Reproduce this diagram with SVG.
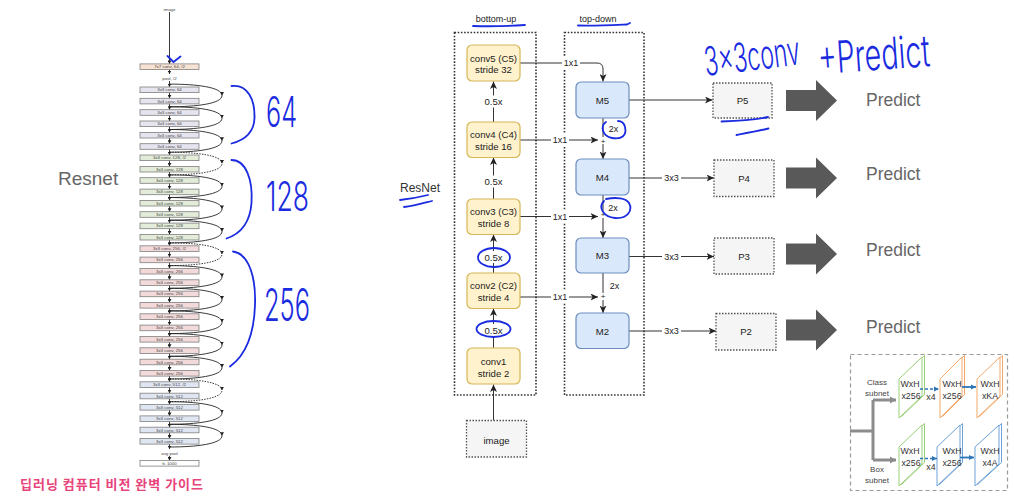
<svg xmlns="http://www.w3.org/2000/svg" width="1014" height="501" viewBox="0 0 1014 501">
<style>
  .rn { stroke:#7f7f7f; stroke-width:0.8; }
  .c64 { fill:#e6e4ef; } .c128 { fill:#e3ecd9; } .c256 { fill:#f3dada; } .c512 { fill:#e0e6f1; } .c7 { fill:#f7e3d4; } .cfc { fill:#ffffff; }
  .rt { font-family:"Liberation Sans", Arial, sans-serif; font-size:4.4px; fill:#444; text-anchor:middle; }
  .ml { fill:none; stroke:#222; stroke-width:0.9; }
  .arc { fill:none; stroke:#222; stroke-width:0.9; marker-mid:url(#aS); }
  .dash { stroke-dasharray:1.5 1.2; }
  .f { font-family:"Liberation Sans", Arial, sans-serif; fill:#222; text-anchor:middle; }
  .f10 { font-size:9.6px; }
  .f9 { font-size:9px; }
  .cb { fill:#fff2cc; stroke:#d6b656; stroke-width:1.2; }
  .mb { fill:#dae8fc; stroke:#6c8ebf; stroke-width:1.2; }
  .pb { fill:#f5f5f5; stroke:#555; stroke-width:1.3; stroke-dasharray:1.5 1.5; }
  .cont { fill:none; stroke:#333; stroke-width:1.6; stroke-dasharray:1.6 1.6; }
  .ln { fill:none; stroke:#333; stroke-width:1; }
  .la { fill:none; stroke:#333; stroke-width:1; marker-end:url(#aF); }
  .wb { fill:#ffffff; }
  .big { fill:#595959; }
  .pred { font-family:"Liberation Sans", Arial, sans-serif; font-size:17.5px; fill:#666; }
  .blue { fill:none; stroke:#1a2be0; stroke-width:1.8; stroke-linecap:round; stroke-linejoin:round; }
  .hw { font-family:Inter, "DejaVu Sans", sans-serif; font-weight:300; fill:#1a2be0; }
  .st { font-family:"Liberation Sans", Arial, sans-serif; font-size:8.8px; fill:#333; text-anchor:middle; }
  .sl { font-family:"Liberation Sans", Arial, sans-serif; font-size:8px; fill:#444; text-anchor:middle; }
  .sg { fill:#fff; stroke:#9bcf7a; stroke-width:1; }
  .so { fill:#fff; stroke:#f3a96b; stroke-width:1; }
  .sb { fill:#fff; stroke:#6fa3d8; stroke-width:1; }
</style>
<defs>
  <marker id="aS" markerUnits="userSpaceOnUse" markerWidth="4" markerHeight="4" refX="3.5" refY="2" orient="auto">
    <path d="M0,0 L3.5,2 L0,4 z" fill="#222"/>
  </marker>
  <marker id="aF" markerUnits="userSpaceOnUse" markerWidth="8" markerHeight="7" refX="7.5" refY="3.5" orient="auto">
    <path d="M0,0 L7.5,3.5 L0,7 L2,3.5 z" fill="#222"/>
  </marker>
  <marker id="aB" markerUnits="userSpaceOnUse" markerWidth="6" markerHeight="6" refX="5" refY="3" orient="auto">
    <path d="M0,0.5 L5,3 L0,5.5 z" fill="#2e75b6"/>
  </marker>
  <marker id="aG" markerUnits="userSpaceOnUse" markerWidth="8" markerHeight="8" refX="6" refY="4" orient="auto">
    <path d="M0,0.5 L6,4 L0,7.5 z" fill="#8c8c8c"/>
  </marker>
</defs>
<rect width="1014" height="501" fill="#ffffff"/>

<!-- ===== ResNet-34 column ===== -->
<g id="resnet-label"><text x="58" y="185" font-family="'Liberation Sans', Arial, sans-serif" font-size="19" fill="#666">Resnet</text></g>
<g id="resnet-connectors">
  <line class="ml" x1="169.5" y1="12" x2="169.5" y2="63.9" marker-end="url(#aS)"/>
  <line class="ml" x1="169.5" y1="69.5" x2="169.5" y2="74" marker-end="url(#aS)"/>
  <path class="ml" style="marker-mid:url(#aS);marker-end:url(#aS)" d="M169.5,81 L169.5,87 L169.5,98.3 L169.5,109.7 L169.5,121 L169.5,132.4 L169.5,143.7 L169.5,155 L169.5,166.4 L169.5,177.7 L169.5,189.1 L169.5,200.4 L169.5,211.7 L169.5,223.1 L169.5,234.4 L169.5,245.8 L169.5,257.1 L169.5,268.4 L169.5,279.8 L169.5,291.1 L169.5,302.5 L169.5,313.8 L169.5,325.1 L169.5,336.5 L169.5,347.8 L169.5,359.2 L169.5,370.5 L169.5,381.8 L169.5,393.2 L169.5,404.5 L169.5,415.9 L169.5,427.2 L169.5,438.5 L169.5,449"/>
  <line class="ml" x1="169.5" y1="456" x2="169.5" y2="460.5" marker-end="url(#aS)"/>
  <!-- residual shortcuts -->
  <path class="arc" d="M169.5,84.1 C196,84.1 222,87.1 222,95.5 C222,103.8 196,106.8 169.5,106.8"/>
  <path class="arc" d="M169.5,106.8 C196,106.8 222,109.8 222,118.2 C222,126.5 196,129.5 169.5,129.5"/>
  <path class="arc" d="M169.5,129.5 C196,129.5 222,132.5 222,140.8 C222,149.2 196,152.2 169.5,152.2"/>
  <path class="arc dash" d="M169.5,152.2 C196,152.2 222,155.2 222,163.5 C222,171.9 196,174.9 169.5,174.9"/>
  <path class="arc" d="M169.5,174.9 C196,174.9 222,177.9 222,186.2 C222,194.5 196,197.5 169.5,197.5"/>
  <path class="arc" d="M169.5,197.5 C196,197.5 222,200.5 222,208.9 C222,217.2 196,220.2 169.5,220.2"/>
  <path class="arc" d="M169.5,220.2 C196,220.2 222,223.2 222,231.5 C222,239.9 196,242.9 169.5,242.9"/>
  <path class="arc dash" d="M169.5,242.9 C196,242.9 222,245.9 222,254.2 C222,262.6 196,265.6 169.5,265.6"/>
  <path class="arc" d="M169.5,265.6 C196,265.6 222,268.6 222,276.9 C222,285.3 196,288.3 169.5,288.3"/>
  <path class="arc" d="M169.5,288.3 C196,288.3 222,291.3 222,299.6 C222,307.9 196,310.9 169.5,310.9"/>
  <path class="arc" d="M169.5,310.9 C196,310.9 222,313.9 222,322.3 C222,330.6 196,333.6 169.5,333.6"/>
  <path class="arc" d="M169.5,333.6 C196,333.6 222,336.6 222,345 C222,353.3 196,356.3 169.5,356.3"/>
  <path class="arc" d="M169.5,356.3 C196,356.3 222,359.3 222,367.6 C222,376 196,379 169.5,379"/>
  <path class="arc dash" d="M169.5,379 C196,379 222,382 222,390.3 C222,398.7 196,401.7 169.5,401.7"/>
  <path class="arc" d="M169.5,401.7 C196,401.7 222,404.7 222,413 C222,421.3 196,424.3 169.5,424.3"/>
  <path class="arc" d="M169.5,424.3 C196,424.3 222,427.3 222,435.7 C222,444 196,447 169.5,447"/>
</g>
<g id="resnet-layers">
  <text class="rt" x="169.5" y="10.5">image</text>
  <rect class="rn c7" x="140" y="63.9" width="59" height="5.6"/><text class="rt" x="169.5" y="68.2">7x7 conv, 64, /2</text>
  <text class="rt" x="169.5" y="79.5">pool, /2</text>
  <rect class="rn c64" x="140" y="87" width="59" height="5.6"/><text class="rt" x="169.5" y="91.3">3x3 conv, 64</text>
  <rect class="rn c64" x="140" y="98.3" width="59" height="5.6"/><text class="rt" x="169.5" y="102.6">3x3 conv, 64</text>
  <rect class="rn c64" x="140" y="109.7" width="59" height="5.6"/><text class="rt" x="169.5" y="114">3x3 conv, 64</text>
  <rect class="rn c64" x="140" y="121" width="59" height="5.6"/><text class="rt" x="169.5" y="125.3">3x3 conv, 64</text>
  <rect class="rn c64" x="140" y="132.4" width="59" height="5.6"/><text class="rt" x="169.5" y="136.7">3x3 conv, 64</text>
  <rect class="rn c64" x="140" y="143.7" width="59" height="5.6"/><text class="rt" x="169.5" y="148">3x3 conv, 64</text>
  <rect class="rn c128" x="140" y="155" width="59" height="5.6"/><text class="rt" x="169.5" y="159.3">3x3 conv, 128, /2</text>
  <rect class="rn c128" x="140" y="166.4" width="59" height="5.6"/><text class="rt" x="169.5" y="170.7">3x3 conv, 128</text>
  <rect class="rn c128" x="140" y="177.7" width="59" height="5.6"/><text class="rt" x="169.5" y="182">3x3 conv, 128</text>
  <rect class="rn c128" x="140" y="189.1" width="59" height="5.6"/><text class="rt" x="169.5" y="193.4">3x3 conv, 128</text>
  <rect class="rn c128" x="140" y="200.4" width="59" height="5.6"/><text class="rt" x="169.5" y="204.7">3x3 conv, 128</text>
  <rect class="rn c128" x="140" y="211.7" width="59" height="5.6"/><text class="rt" x="169.5" y="216">3x3 conv, 128</text>
  <rect class="rn c128" x="140" y="223.1" width="59" height="5.6"/><text class="rt" x="169.5" y="227.4">3x3 conv, 128</text>
  <rect class="rn c128" x="140" y="234.4" width="59" height="5.6"/><text class="rt" x="169.5" y="238.7">3x3 conv, 128</text>
  <rect class="rn c256" x="140" y="245.8" width="59" height="5.6"/><text class="rt" x="169.5" y="250.1">3x3 conv, 256, /2</text>
  <rect class="rn c256" x="140" y="257.1" width="59" height="5.6"/><text class="rt" x="169.5" y="261.4">3x3 conv, 256</text>
  <rect class="rn c256" x="140" y="268.4" width="59" height="5.6"/><text class="rt" x="169.5" y="272.7">3x3 conv, 256</text>
  <rect class="rn c256" x="140" y="279.8" width="59" height="5.6"/><text class="rt" x="169.5" y="284.1">3x3 conv, 256</text>
  <rect class="rn c256" x="140" y="291.1" width="59" height="5.6"/><text class="rt" x="169.5" y="295.4">3x3 conv, 256</text>
  <rect class="rn c256" x="140" y="302.5" width="59" height="5.6"/><text class="rt" x="169.5" y="306.8">3x3 conv, 256</text>
  <rect class="rn c256" x="140" y="313.8" width="59" height="5.6"/><text class="rt" x="169.5" y="318.1">3x3 conv, 256</text>
  <rect class="rn c256" x="140" y="325.1" width="59" height="5.6"/><text class="rt" x="169.5" y="329.4">3x3 conv, 256</text>
  <rect class="rn c256" x="140" y="336.5" width="59" height="5.6"/><text class="rt" x="169.5" y="340.8">3x3 conv, 256</text>
  <rect class="rn c256" x="140" y="347.8" width="59" height="5.6"/><text class="rt" x="169.5" y="352.1">3x3 conv, 256</text>
  <rect class="rn c256" x="140" y="359.2" width="59" height="5.6"/><text class="rt" x="169.5" y="363.5">3x3 conv, 256</text>
  <rect class="rn c256" x="140" y="370.5" width="59" height="5.6"/><text class="rt" x="169.5" y="374.8">3x3 conv, 256</text>
  <rect class="rn c512" x="140" y="381.8" width="59" height="5.6"/><text class="rt" x="169.5" y="386.1">3x3 conv, 512, /2</text>
  <rect class="rn c512" x="140" y="393.2" width="59" height="5.6"/><text class="rt" x="169.5" y="397.5">3x3 conv, 512</text>
  <rect class="rn c512" x="140" y="404.5" width="59" height="5.6"/><text class="rt" x="169.5" y="408.8">3x3 conv, 512</text>
  <rect class="rn c512" x="140" y="415.9" width="59" height="5.6"/><text class="rt" x="169.5" y="420.2">3x3 conv, 512</text>
  <rect class="rn c512" x="140" y="427.2" width="59" height="5.6"/><text class="rt" x="169.5" y="431.5">3x3 conv, 512</text>
  <rect class="rn c512" x="140" y="438.5" width="59" height="5.6"/><text class="rt" x="169.5" y="442.8">3x3 conv, 512</text>
  <text class="rt" x="169.5" y="454.8">avg pool</text>
  <rect class="rn cfc" x="140" y="460.5" width="59" height="5.6"/><text class="rt" x="169.5" y="464.8">fc 1000</text>
</g>
<g id="resnet-notes">
  <path class="blue" d="M167.5,56 L173.5,62 L180.5,56.5"/>
  <path class="blue" d="M231.5,86 C248,84 255,100 254.5,118 C254,133 245,140 231.5,143.5"/>
  <path class="blue" d="M231.5,160 C246,160 253,180 251.5,203 C250,223 240,234 226.5,238.5"/>
  <path class="blue" d="M233,251.5 C250,254 256,280 255,305 C254,335 246,355 230,366.5"/>
  <text class="hw" x="266" y="127" font-size="42" textLength="31" lengthAdjust="spacingAndGlyphs">64</text>
  <text class="hw" x="266" y="211" font-size="41" textLength="43" lengthAdjust="spacingAndGlyphs">128</text>
  <text class="hw" x="264" y="321" font-size="45" textLength="46" lengthAdjust="spacingAndGlyphs">256</text>
</g>
<g id="title"><text x="20" y="489" font-family="'Noto Sans CJK KR', sans-serif" font-weight="bold" font-size="13" fill="#e8437b" textLength="183">딥러닝 컴퓨터 비전 완벽 가이드</text></g>

<!-- ===== FPN ===== -->
<g id="fpn-label">
  <text x="400" y="192" font-family="'Liberation Sans', Arial, sans-serif" font-size="12" fill="#333">ResNet</text>
  <path class="blue" d="M400,200 C410,199 420,197 428,195"/>
  <path class="blue" d="M404,207 C414,206 424,203 432,201"/>
</g>
<g id="bottom-up">
  <text class="f f9" x="496" y="22">bottom-up</text>
  <path class="blue" d="M473,26 C490,26.5 510,26 525,25"/>
  <rect class="cont" x="454.5" y="32.5" width="81.5" height="362.5"/>
</g>
<g id="top-down">
  <text class="f f9" x="598" y="22">top-down</text>
  <path class="blue" d="M578,25.5 C595,26 615,25 627,24.5 L630,23"/>
  <rect class="cont" x="564.5" y="32.5" width="79.5" height="362.5"/>
</g>

<g id="fpn-connectors">
  <!-- bottom-up path -->
  <line class="la" x1="493.5" y1="420.5" x2="493.5" y2="384.5"/>
  <line class="la" x1="493.5" y1="348" x2="493.5" y2="308.5"/>
  <line class="la" x1="493.5" y1="273" x2="493.5" y2="234.5"/>
  <line class="la" x1="493.5" y1="199" x2="493.5" y2="157.5"/>
  <line class="la" x1="493.5" y1="122" x2="493.5" y2="81.5"/>
  <!-- lateral 1x1 -->
  <path class="la" d="M520,63 L597,63 Q603,63 603,69 L603,81.5"/>
  <line class="la" x1="520" y1="140" x2="598" y2="140"/>
  <line class="la" x1="520" y1="216.5" x2="598" y2="216.5"/>
  <line class="la" x1="520" y1="297" x2="598" y2="297"/>
  <!-- top-down upsampling -->
  <line class="ln" x1="603" y1="118" x2="603" y2="137"/>
  <line class="la" x1="603" y1="144" x2="603" y2="159"/>
  <line class="ln" x1="603" y1="195" x2="603" y2="211"/>
  <line class="la" x1="603" y1="218" x2="603" y2="238"/>
  <line class="ln" x1="603" y1="273" x2="603" y2="293"/>
  <line class="la" x1="603" y1="300" x2="603" y2="313"/>
  <!-- outputs -->
  <line class="la" x1="629" y1="100" x2="712.5" y2="100"/>
  <line class="la" x1="629" y1="178" x2="714" y2="178"/>
  <line class="la" x1="629" y1="256.5" x2="714" y2="256.5"/>
  <line class="la" x1="629" y1="331" x2="716" y2="331"/>
  <!-- labels -->
  <rect class="wb" x="481" y="95.5" width="25" height="12"/><text class="f f10" x="493.5" y="105">0.5x</text>
  <rect class="wb" x="481" y="175.5" width="25" height="12"/><text class="f f10" x="493.5" y="185">0.5x</text>
  <rect class="wb" x="481" y="251" width="25" height="12"/><text class="f f10" x="493.5" y="260.5">0.5x</text>
  <rect class="wb" x="481" y="324" width="25" height="12"/><text class="f f10" x="493.5" y="333.5">0.5x</text>
  <rect class="wb" x="562" y="57" width="18" height="12"/><text class="f f9" x="571" y="66.2">1x1</text>
  <rect class="wb" x="551" y="134" width="18" height="12"/><text class="f f9" x="560" y="143.2">1x1</text>
  <rect class="wb" x="551" y="210.5" width="18" height="12"/><text class="f f9" x="560" y="219.7">1x1</text>
  <rect class="wb" x="551" y="291" width="18" height="12"/><text class="f f9" x="560" y="300.2">1x1</text>
  <text class="f f9" x="613.5" y="131.5">2x</text>
  <text class="f f9" x="613" y="210.5">2x</text>
  <text class="f f9" x="614.5" y="288.5">2x</text>
  <text class="f" font-size="8" x="603" y="143.8">+</text>
  <text class="f" font-size="8" x="603" y="216.8">+</text>
  <text class="f" font-size="8" x="603" y="298.8">+</text>
  <rect class="wb" x="662" y="172" width="19" height="12"/><text class="f f9" x="671.5" y="181.2">3x3</text>
  <rect class="wb" x="662" y="250.5" width="19" height="12"/><text class="f f9" x="671.5" y="259.7">3x3</text>
  <rect class="wb" x="662" y="325" width="19" height="12"/><text class="f f9" x="671.5" y="334.2">3x3</text>
</g>

<g id="conv5"><rect class="cb" x="467" y="45" width="53" height="36" rx="5"/><text class="f f10" x="493.5" y="61.5">conv5 (C5)</text><text class="f f10" x="493.5" y="73">stride 32</text></g>
<g id="conv4"><rect class="cb" x="467" y="122" width="53" height="35.5" rx="5"/><text class="f f10" x="493.5" y="138">conv4 (C4)</text><text class="f f10" x="493.5" y="149.5">stride 16</text></g>
<g id="conv3"><rect class="cb" x="467" y="199" width="53" height="35.5" rx="5"/><text class="f f10" x="493.5" y="215">conv3 (C3)</text><text class="f f10" x="493.5" y="226.5">stride 8</text></g>
<g id="conv2"><rect class="cb" x="467" y="273" width="53" height="35.5" rx="5"/><text class="f f10" x="493.5" y="289">conv2 (C2)</text><text class="f f10" x="493.5" y="300.5">stride 4</text></g>
<g id="conv1"><rect class="cb" x="467" y="348" width="53" height="36" rx="5"/><text class="f f10" x="493.5" y="365">conv1</text><text class="f f10" x="493.5" y="376.5">stride 2</text></g>
<g id="image"><rect class="pb" x="466.5" y="420.5" width="60" height="36.5"/><text class="f f10" x="496.5" y="443.5">image</text></g>

<g id="M5"><rect class="mb" x="576" y="82" width="53" height="36" rx="5"/><text class="f f10" x="602.5" y="103.5">M5</text></g>
<g id="M4"><rect class="mb" x="576" y="159" width="53" height="36" rx="5"/><text class="f f10" x="602.5" y="180.5">M4</text></g>
<g id="M3"><rect class="mb" x="576" y="238" width="53" height="35" rx="5"/><text class="f f10" x="602.5" y="259">M3</text></g>
<g id="M2"><rect class="mb" x="576" y="313" width="53" height="35.5" rx="5"/><text class="f f10" x="602.5" y="334.5">M2</text></g>

<g id="P5"><rect class="pb" x="713" y="83" width="59" height="35"/><text class="f f10" x="742.5" y="104">P5</text></g>
<g id="P4"><rect class="pb" x="714" y="160" width="60" height="36.5"/><text class="f f10" x="744" y="182">P4</text></g>
<g id="P3"><rect class="pb" x="714" y="238" width="60" height="36"/><text class="f f10" x="744" y="259.5">P3</text></g>
<g id="P2"><rect class="pb" x="716" y="313.5" width="60" height="36.5"/><text class="f f10" x="746" y="335">P2</text></g>

<g id="fpn-notes">
  <ellipse class="blue" cx="494" cy="257.5" rx="16" ry="9.5"/>
  <ellipse class="blue" cx="493.5" cy="329" rx="17" ry="8"/>
  <path class="blue" d="M606,122 C600,126 602,136 612,138 C622,140 627,135 625,127 C624,123 621,121 618,121"/>
  <path class="blue" d="M604,201 C598,207 603,217 615,218 C628,219 633,210 629,203 C626,198 616,197 606,199"/>
  <path class="blue" d="M721.5,121.5 C737,121 755,120 768,117"/>
  <path class="blue" d="M736.5,135 C747,133 758,131 768.5,128.5"/>
  <text class="hw" x="706" y="76" font-size="40" textLength="96" lengthAdjust="spacingAndGlyphs" transform="rotate(-7 706 76)">3x3conv</text>
  <text class="hw" x="819" y="74" font-size="44" textLength="112" lengthAdjust="spacingAndGlyphs" transform="rotate(-4 819 74)">+Predict</text>
</g>

<!-- ===== prediction heads ===== -->
<g id="predict5"><polygon class="big" points="786,90 816,90 816,80 837,100.5 816,121 816,111 786,111"/><text class="pred" x="866" y="106">Predict</text></g>
<g id="predict4"><polygon class="big" points="786,167.5 816,167.5 816,157.5 837,178 816,198.5 816,188.5 786,188.5"/><text class="pred" x="866" y="180">Predict</text></g>
<g id="predict3"><polygon class="big" points="786,243.5 816,243.5 816,233.5 837,254 816,274.5 816,264.5 786,264.5"/><text class="pred" x="866" y="256">Predict</text></g>
<g id="predict2"><polygon class="big" points="786,319.5 816,319.5 816,309.5 837,330 816,350.5 816,340.5 786,340.5"/><text class="pred" x="866" y="333">Predict</text></g>

<!-- ===== class / box subnets ===== -->
<g id="subnets">
  <rect x="850.5" y="354.5" width="157" height="136" fill="#fff" stroke="#9a9a9a" stroke-width="1.2" stroke-dasharray="4 3"/>
  <path d="M850,431 L873,431 M873,400 L873,460" fill="none" stroke="#8c8c8c" stroke-width="3"/>
  <line x1="873" y1="400" x2="896" y2="400" stroke="#8c8c8c" stroke-width="3" marker-end="url(#aG)"/>
  <line x1="873" y1="460" x2="896" y2="460" stroke="#8c8c8c" stroke-width="3" marker-end="url(#aG)"/>
  <text class="sl" x="877" y="385">Class</text><text class="sl" x="877" y="396">subnet</text>
  <text class="sl" x="877" y="472">Box</text><text class="sl" x="877" y="483">subnet</text>
  <!-- class branch -->
  <polygon class="sg" points="901.5,377.5 924.5,355.5 924.5,394.5 901.5,416.5"/>
  <polygon class="sg" points="899,379 922,357 922,396 899,418"/>
  <polygon class="so" points="942.5,377.5 964.5,355.5 964.5,394.5 942.5,416.5"/>
  <polygon class="so" points="940,379 962,357 962,396 940,418"/>
  <polygon class="so" points="979.5,377.5 1002.5,355.5 1002.5,394.5 979.5,416.5"/>
  <polygon class="so" points="977,379 1000,357 1000,396 977,418"/>
  <text class="st" x="910" y="387">WxH</text><text class="st" x="911" y="399">x256</text>
  <text class="st" x="952" y="387">WxH</text><text class="st" x="952" y="399">x256</text>
  <text class="st" x="990" y="387">WxH</text><text class="st" x="990" y="399">xKA</text>
  <line x1="920" y1="389" x2="939" y2="389" stroke="#2e75b6" stroke-width="1.6" stroke-dasharray="3 2" marker-end="url(#aB)"/>
  <text class="st" x="931" y="400">x4</text>
  <line x1="962" y1="387" x2="976" y2="387" stroke="#2e75b6" stroke-width="1.8" marker-end="url(#aB)"/>
  <!-- box branch -->
  <polygon class="sg" points="901.5,445.5 924.5,423.5 924.5,462.5 901.5,484.5"/>
  <polygon class="sg" points="899,447 922,425 922,464 899,486"/>
  <polygon class="sb" points="939.5,445.5 962.5,423.5 962.5,462.5 939.5,484.5"/>
  <polygon class="sb" points="937,447 960,425 960,464 937,486"/>
  <polygon class="sb" points="977.5,445.5 1001.5,423.5 1001.5,462.5 977.5,484.5"/>
  <polygon class="sb" points="975,447 999,425 999,464 975,486"/>
  <text class="st" x="910" y="453.5">WxH</text><text class="st" x="911" y="465.5">x256</text>
  <text class="st" x="952" y="453.5">WxH</text><text class="st" x="952" y="465.5">x256</text>
  <text class="st" x="990" y="453.5">WxH</text><text class="st" x="990" y="465.5">x4A</text>
  <line x1="920" y1="458.5" x2="937" y2="458.5" stroke="#2e75b6" stroke-width="1.6" stroke-dasharray="3 2" marker-end="url(#aB)"/>
  <text class="st" x="931" y="470">x4</text>
  <line x1="960" y1="457.5" x2="974" y2="457.5" stroke="#2e75b6" stroke-width="1.8" marker-end="url(#aB)"/>
</g>
</svg>
